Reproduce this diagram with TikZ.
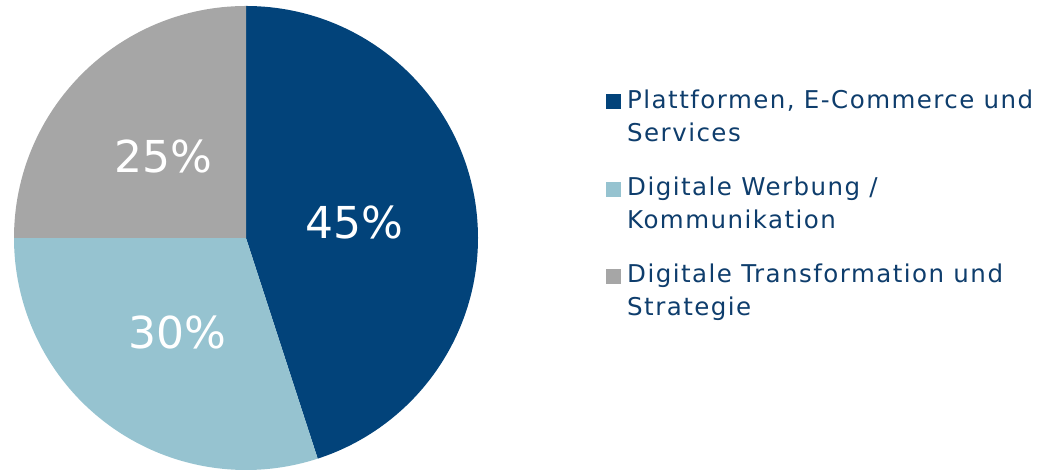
\documentclass[tikz,border=0pt]{standalone}
\usepackage{fontspec}
\setmainfont{DejaVu Sans}
\newfontfamily\legendfont[LetterSpace=6]{DejaVu Sans}
\usetikzlibrary{positioning}
\definecolor{darkslice}{HTML}{02437A}
\definecolor{lightslice}{HTML}{96C3D0}
\definecolor{greyslice}{HTML}{A6A6A6}
\definecolor{legendtext}{HTML}{0E3D6C}
\tikzstyle{pct} = [text=white, font=\fontsize{44}{50}\selectfont, inner sep=0pt]
\tikzstyle{key} = [rectangle, minimum size=15pt, inner sep=0pt]
\tikzstyle{entry} = [anchor=base west, align=left, text=legendtext, inner sep=0pt, font=\legendfont\fontsize{24.5}{33}\selectfont]

\begin{document}
\begin{tikzpicture}[x=1pt,y=1pt]
    \useasboundingbox (0,0) rectangle (1037,470);
    \coordinate (c) at (246,232);
    % slices
    \fill [darkslice] (c) -- ++(90:232) arc (90:-72:232) -- cycle;
    \fill [lightslice] (c) -- ++(-72:232) arc (-72:-180:232) -- cycle;
    \fill [greyslice] (c) -- ++(180:232) arc (180:90:232) -- cycle;
    \node [pct] (p45) at (354,248) {45\%};
    \node [pct] (p30) at (177,138) {30\%};
    \node [pct] (p25) at (163,314) {25\%};
    % legend
    \node [entry] (label1) at (627,328) {Plattformen, E-Commerce und\\Services};
    \node [entry] (label2) at (627,241) {Digitale Werbung /\\Kommunikation};
    \node [entry] (label3) at (627,154) {Digitale Transformation und\\Strategie};
    \node [key, fill=darkslice] (key1) at (613,368.5) {};
    \node [key, fill=lightslice] (key2) at (613,280.5) {};
    \node [key, fill=greyslice] (key3) at (613,193.5) {};
\end{tikzpicture}
\end{document}
